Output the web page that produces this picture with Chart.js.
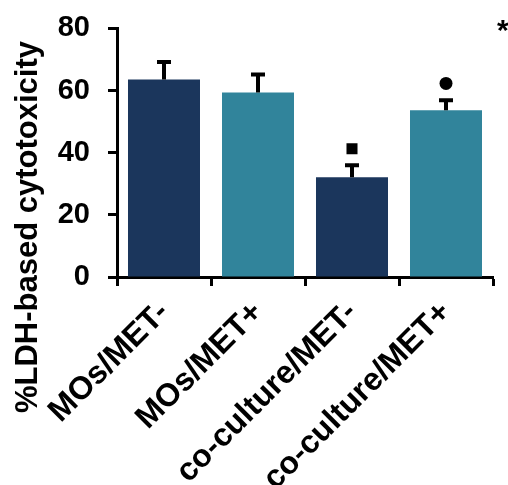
<!DOCTYPE html>
<html>
<head>
<meta charset="utf-8">
<script src="https://cdn.jsdelivr.net/npm/chart.js@4"></script>
<style>
    body { margin: 0; background: #fff; }
    canvas { display: block; }
</style>
</head>
<body>
<canvas id="ldhChart" width="508" height="485"></canvas>
<script>
const groups = ["MOs/MET-", "MOs/MET+", "co-culture/MET-", "co-culture/MET+"];
const cytotoxicity = [63.6, 59.4, 32.1, 53.7];
const errorUp = [5.6, 5.8, 3.9, 3.2];
const markerValues = [null, null, 41.3, 62.3];
const markerStyles = ["circle", "circle", "rect", "circle"];
const yTicks = [0, 20, 40, 60, 80];

const navy = "#1b365c";
const teal = "#31849b";
const font = "'Liberation Sans', Arial, sans-serif";

// error bars (upper only) + axis title + corner asterisk
const extras = {
    id: "extras",
    afterDatasetsDraw(chart) {
        const ctx = chart.ctx;
        const x = chart.scales.x;
        const y = chart.scales.y;
        ctx.save();
        ctx.strokeStyle = "#000";
        ctx.lineWidth = 4;
        for (let i = 0; i < cytotoxicity.length; i++) {
            let px = x.getPixelForValue(i);
            let top = y.getPixelForValue(cytotoxicity[i] + errorUp[i]);
            let base = y.getPixelForValue(cytotoxicity[i]);
            ctx.beginPath();
            ctx.moveTo(px, base);
            ctx.lineTo(px, top);
            ctx.moveTo(px - 7, top);
            ctx.lineTo(px + 7, top);
            ctx.stroke();
        }
        ctx.restore();
    },
    afterDraw(chart) {
        const ctx = chart.ctx;
        ctx.save();
        ctx.fillStyle = "#000";
        ctx.font = "bold 31px " + font;
        ctx.translate(37, 227);
        ctx.rotate(-Math.PI / 2);
        ctx.textAlign = "center";
        ctx.textBaseline = "alphabetic";
        ctx.fillText("%LDH-based cytotoxicity", 0, 0);
        ctx.restore();

        ctx.save();
        ctx.fillStyle = "#000";
        ctx.font = "bold 30px " + font;
        ctx.textAlign = "left";
        ctx.textBaseline = "alphabetic";
        ctx.fillText("*", 497, 40);
        ctx.restore();
    }
};

new Chart(document.getElementById("ldhChart"), {
    type: "bar",
    data: {
        labels: groups,
        datasets: [{
            type: "line",
            data: markerValues,
            showLine: false,
            pointStyle: markerStyles,
            pointRadius: [0, 0, 7.8, 6.5],
            pointBackgroundColor: "#000",
            pointBorderWidth: 0,
            order: 0
        }, {
            data: cytotoxicity,
            backgroundColor: [navy, teal, navy, teal],
            borderWidth: 0,
            categoryPercentage: 1,
            barPercentage: 0.766,
            order: 1
        }]
    },
    options: {
        responsive: false,
        animation: false,
        layout: {
            padding: { top: 0, right: 15, left: 0, bottom: 0 }
        },
        plugins: {
            legend: { display: false },
            tooltip: { enabled: false }
        },
        scales: {
            x: {
                offset: true,
                grid: {
                    offset: true,
                    drawOnChartArea: false,
                    drawTicks: true,
                    tickLength: 9,
                    tickWidth: 3,
                    tickColor: "#000"
                },
                border: { color: "#000", width: 3 },
                ticks: {
                    color: "#000",
                    font: { family: font, weight: "bold", size: 32 },
                    minRotation: 45,
                    maxRotation: 45,
                    autoSkip: false,
                    padding: 8
                },
                afterFit(scale) { scale.height = 208; }
            },
            y: {
                min: 0,
                max: 80,
                afterBuildTicks(scale) {
                    scale.ticks = yTicks.map(v => ({ value: v }));
                },
                grid: {
                    drawOnChartArea: false,
                    tickLength: 9,
                    tickWidth: 3,
                    tickColor: "#000"
                },
                border: { color: "#000", width: 3 },
                ticks: {
                    color: "#000",
                    font: { family: font, weight: "bold", size: 29, lineHeight: 0.72 },
                    padding: 18
                },
                afterFit(scale) { scale.width = 117; }
            }
        }
    },
    plugins: [extras]
});
</script>
</body>
</html>
